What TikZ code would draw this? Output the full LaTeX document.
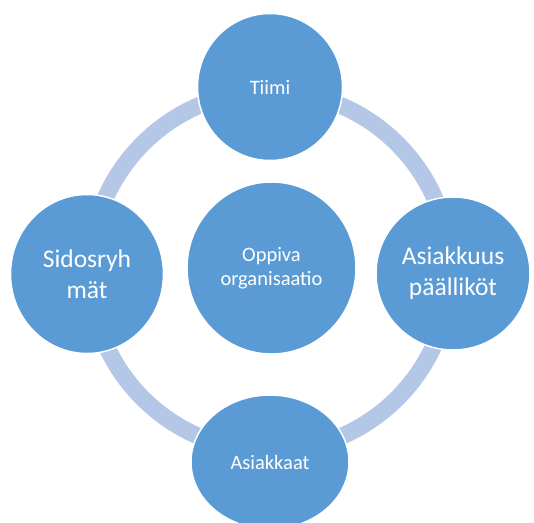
\documentclass[tikz,border=0pt]{standalone}
\usepackage{fontspec}
\setmainfont{Carlito}
\usetikzlibrary{shapes.geometric}
\definecolor{bubble}{HTML}{5B9BD5}
\definecolor{ringc}{HTML}{B4C7E7}
\tikzset{
  bub/.style={ellipse, fill=bubble, draw=white, line width=1.5pt, inner sep=0pt,
    align=center, text=white},
  small/.style={font=\fontsize{20.5}{24}\selectfont},
  big/.style={font=\fontsize{25.5}{31}\selectfont},
}
\begin{document}
\begin{tikzpicture}[x=1pt,y=-1pt]
\useasboundingbox (0,0) rectangle (534,522);
\clip (0,0) rectangle (534,522);
\fill[white] (0,0) rectangle (534,522);
\draw[ringc, line width=17pt] (270,271) circle[radius=180];
\node[bub, small, minimum width=169pt, minimum height=172pt] (center) at (271.5,268) {Oppiva\\organisaatio};
\node[bub, small, minimum width=145pt, minimum height=147pt] (top) at (270,87) {Tiimi};
\node[bub, big, minimum width=153pt, minimum height=159pt] (left) at (87,274) {Sidosryh\\mät};
\node[bub, big, minimum width=154pt, minimum height=153pt] (right) at (453,273.5) {Asiakkuus\\päälliköt};
\node[bub, small, minimum width=158pt, minimum height=134pt] (bottom) at (270,462) {Asiakkaat};
\end{tikzpicture}
\end{document}
